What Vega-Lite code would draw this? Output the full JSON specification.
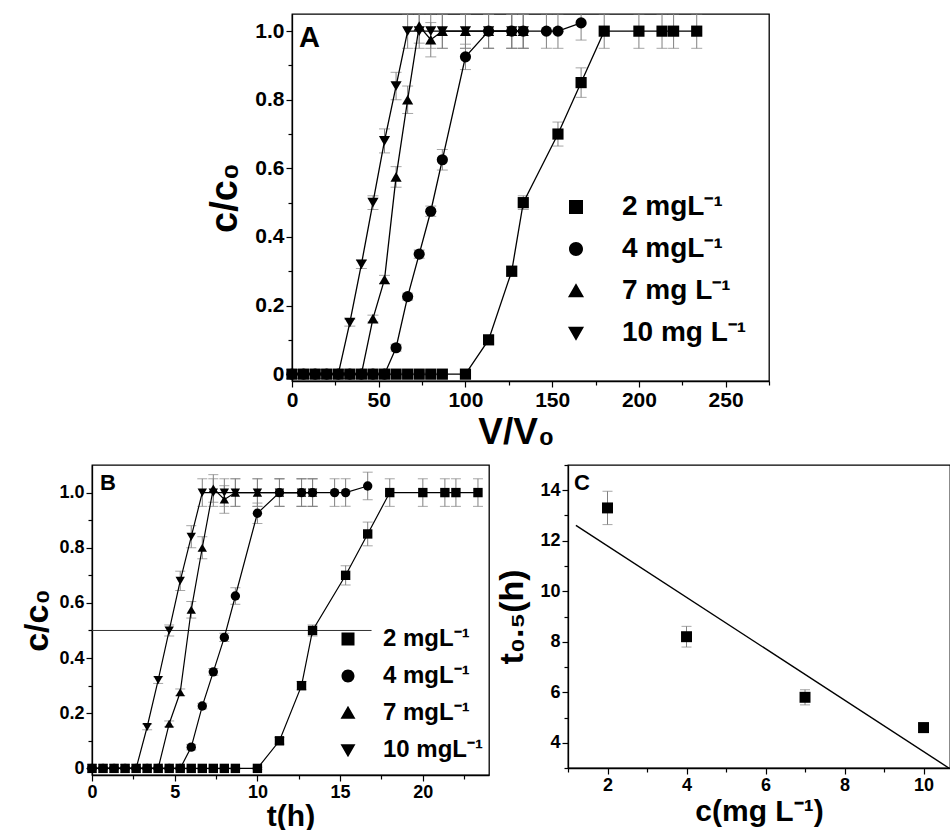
{
  "$schema": "https://vega.github.io/schema/vega-lite/v6.json",
  "padding": {"left": 20, "top": 13, "right": 0, "bottom": 0},
  "background": "white",
  "config": {
    "font": "Liberation Sans",
    "view": {"stroke": "black", "strokeWidth": 1.3},
    "axis": {
      "labelFont": "Liberation Sans", "titleFont": "Liberation Sans",
      "labelFontWeight": "bold", "titleFontWeight": "bold",
      "labelColor": "black", "titleColor": "black",
      "tickColor": "black", "domainColor": "black",
      "tickWidth": 1.2, "domainWidth": 1.3, "grid": false,
      "labelPadding": 2, "labelOverlap": false, "labelFlush": false, "labelBound": false,
      "titlePadding": 4
    },
    "legend": {
      "labelFont": "Liberation Sans", "labelFontWeight": "bold", "labelColor": "black",
      "padding": 0, "symbolStrokeColor": "black", "symbolFillColor": "black", "symbolStrokeWidth": 1.5
    },
    "title": {"font": "Liberation Sans", "fontWeight": "bold", "color": "black"}
  },
  "datasets": {
    "bt": [
      {"s": "2", "v": 0, "t": 0, "c": 0, "e": 0.004},
      {"s": "2", "v": 6.67, "t": 0.667, "c": 0, "e": 0.004},
      {"s": "2", "v": 13.33, "t": 1.333, "c": 0, "e": 0.004},
      {"s": "2", "v": 20, "t": 2, "c": 0, "e": 0.004},
      {"s": "2", "v": 26.67, "t": 2.667, "c": 0, "e": 0.004},
      {"s": "2", "v": 33.33, "t": 3.333, "c": 0, "e": 0.004},
      {"s": "2", "v": 40, "t": 4, "c": 0, "e": 0.004},
      {"s": "2", "v": 46.67, "t": 4.667, "c": 0, "e": 0.004},
      {"s": "2", "v": 53.33, "t": 5.333, "c": 0, "e": 0.004},
      {"s": "2", "v": 60, "t": 6, "c": 0, "e": 0.004},
      {"s": "2", "v": 66.67, "t": 6.667, "c": 0, "e": 0.004},
      {"s": "2", "v": 73.33, "t": 7.333, "c": 0, "e": 0.004},
      {"s": "2", "v": 80, "t": 8, "c": 0, "e": 0.004},
      {"s": "2", "v": 86.67, "t": 8.667, "c": 0, "e": 0.004},
      {"s": "2", "v": 100, "t": 10, "c": 0, "e": 0.004},
      {"s": "2", "v": 113.33, "t": 11.333, "c": 0.1, "e": 0.012},
      {"s": "2", "v": 126.67, "t": 12.667, "c": 0.3, "e": 0.015},
      {"s": "2", "v": 133.33, "t": 13.333, "c": 0.5, "e": 0.02},
      {"s": "2", "v": 153.33, "t": 15.333, "c": 0.7, "e": 0.035},
      {"s": "2", "v": 166.67, "t": 16.667, "c": 0.85, "e": 0.043},
      {"s": "2", "v": 180, "t": 18, "c": 1.0, "e": 0.05},
      {"s": "2", "v": 200, "t": 20, "c": 1.0, "e": 0.05},
      {"s": "2", "v": 213.33, "t": 21.333, "c": 1.0, "e": 0.05},
      {"s": "2", "v": 220, "t": 22, "c": 1.0, "e": 0.05},
      {"s": "2", "v": 233.33, "t": 23.333, "c": 1.0, "e": 0.05},
      {"s": "4", "v": 0, "t": 0, "c": 0, "e": 0.004},
      {"s": "4", "v": 6.67, "t": 0.667, "c": 0, "e": 0.004},
      {"s": "4", "v": 13.33, "t": 1.333, "c": 0, "e": 0.004},
      {"s": "4", "v": 20, "t": 2, "c": 0, "e": 0.004},
      {"s": "4", "v": 26.67, "t": 2.667, "c": 0, "e": 0.004},
      {"s": "4", "v": 33.33, "t": 3.333, "c": 0, "e": 0.004},
      {"s": "4", "v": 40, "t": 4, "c": 0, "e": 0.004},
      {"s": "4", "v": 46.67, "t": 4.667, "c": 0, "e": 0.004},
      {"s": "4", "v": 53.33, "t": 5.333, "c": 0, "e": 0.004},
      {"s": "4", "v": 60, "t": 6, "c": 0.077, "e": 0.01},
      {"s": "4", "v": 66.67, "t": 6.667, "c": 0.226, "e": 0.01},
      {"s": "4", "v": 73.33, "t": 7.333, "c": 0.35, "e": 0.012},
      {"s": "4", "v": 80, "t": 8, "c": 0.475, "e": 0.015},
      {"s": "4", "v": 86.67, "t": 8.667, "c": 0.625, "e": 0.03},
      {"s": "4", "v": 100, "t": 10, "c": 0.925, "e": 0.037},
      {"s": "4", "v": 113.33, "t": 11.333, "c": 1.0, "e": 0.05},
      {"s": "4", "v": 126.67, "t": 12.667, "c": 1.0, "e": 0.05},
      {"s": "4", "v": 133.33, "t": 13.333, "c": 1.0, "e": 0.05},
      {"s": "4", "v": 146.67, "t": 14.667, "c": 1.0, "e": 0.05},
      {"s": "4", "v": 153.33, "t": 15.333, "c": 1.0, "e": 0.05},
      {"s": "4", "v": 166.67, "t": 16.667, "c": 1.024, "e": 0.05},
      {"s": "7", "v": 0, "t": 0, "c": 0, "e": 0.004},
      {"s": "7", "v": 6.67, "t": 0.667, "c": 0, "e": 0.004},
      {"s": "7", "v": 13.33, "t": 1.333, "c": 0, "e": 0.004},
      {"s": "7", "v": 20, "t": 2, "c": 0, "e": 0.004},
      {"s": "7", "v": 26.67, "t": 2.667, "c": 0, "e": 0.004},
      {"s": "7", "v": 33.33, "t": 3.333, "c": 0, "e": 0.004},
      {"s": "7", "v": 40, "t": 4, "c": 0, "e": 0.004},
      {"s": "7", "v": 46.67, "t": 4.667, "c": 0.162, "e": 0.01},
      {"s": "7", "v": 53.33, "t": 5.333, "c": 0.276, "e": 0.012},
      {"s": "7", "v": 60, "t": 6, "c": 0.575, "e": 0.03},
      {"s": "7", "v": 66.67, "t": 6.667, "c": 0.8, "e": 0.04},
      {"s": "7", "v": 73.33, "t": 7.333, "c": 1.015, "e": 0.05},
      {"s": "7", "v": 80, "t": 8, "c": 0.975, "e": 0.05},
      {"s": "7", "v": 86.67, "t": 8.667, "c": 1.0, "e": 0.05},
      {"s": "7", "v": 100, "t": 10, "c": 1.0, "e": 0.05},
      {"s": "7", "v": 113.33, "t": 11.333, "c": 1.0, "e": 0.05},
      {"s": "7", "v": 126.67, "t": 12.667, "c": 1.0, "e": 0.05},
      {"s": "7", "v": 133.33, "t": 13.333, "c": 1.0, "e": 0.05},
      {"s": "10", "v": 0, "t": 0, "c": 0, "e": 0.004},
      {"s": "10", "v": 6.67, "t": 0.667, "c": 0, "e": 0.004},
      {"s": "10", "v": 13.33, "t": 1.333, "c": 0, "e": 0.004},
      {"s": "10", "v": 20, "t": 2, "c": 0, "e": 0.004},
      {"s": "10", "v": 26.67, "t": 2.667, "c": 0, "e": 0.004},
      {"s": "10", "v": 33.33, "t": 3.333, "c": 0.15, "e": 0.01},
      {"s": "10", "v": 40, "t": 4, "c": 0.32, "e": 0.012},
      {"s": "10", "v": 46.67, "t": 4.667, "c": 0.5, "e": 0.02},
      {"s": "10", "v": 53.33, "t": 5.333, "c": 0.68, "e": 0.035},
      {"s": "10", "v": 60, "t": 6, "c": 0.84, "e": 0.04},
      {"s": "10", "v": 66.67, "t": 6.667, "c": 1.0, "e": 0.05},
      {"s": "10", "v": 73.33, "t": 7.333, "c": 1.0, "e": 0.05},
      {"s": "10", "v": 80, "t": 8, "c": 1.0, "e": 0.05},
      {"s": "10", "v": 86.67, "t": 8.667, "c": 1.0, "e": 0.05},
      {"s": "10", "v": 100, "t": 10, "c": 1.0, "e": 0.05},
      {"s": "10", "v": 113.33, "t": 11.333, "c": 1.0, "e": 0.05},
      {"s": "10", "v": 126.67, "t": 12.667, "c": 1.0, "e": 0.05},
      {"s": "10", "v": 133.33, "t": 13.333, "c": 1.0, "e": 0.05}
    ],
    "half": [{"t": 0, "t2": 16.9, "c": 0.5}],
    "c5": [
      {"cm": 2, "th": 13.3, "e": 0.66},
      {"cm": 4, "th": 8.2, "e": 0.41},
      {"cm": 7, "th": 5.8, "e": 0.3},
      {"cm": 10, "th": 4.6, "e": 0.2}
    ],
    "fit": [
      {"cm": 1.2, "th": 12.61},
      {"cm": 10.64, "th": 3.0}
    ]
  },
  "spacing": 4,
  "center": false,
  "vconcat": [
    {
      "spacing": 5,
      "bounds": "flush",
      "hconcat": [
        {"width": 195, "height": 367, "data": {"values": []}, "mark": "point", "view": {"stroke": null, "fill": "white"}},
        {
          "width": 477, "height": 367,
          "title": {"text": "A", "orient": "top", "anchor": "start", "frame": "group", "baseline": "top", "offset": -39, "dx": 7, "fontSize": 29},
          "data": {"name": "bt"},
          "encoding": {
            "x": {"field": "v", "type": "quantitative",
              "scale": {"domain": [0, 275], "nice": false, "zero": false},
              "axis": {"title": "V/V₀", "titleFontSize": 37, "labelFontSize": 21, "titleX": 224,
                "values": [0, 25, 50, 75, 100, 125, 150, 175, 200, 225, 250, 275],
                "labelExpr": "datum.value % 50 == 0 ? '' + datum.value : ''",
                "tickSize": {"condition": {"test": "datum.value % 50 != 0", "value": 4}, "value": 6}}},
            "y": {"field": "c", "type": "quantitative",
              "scale": {"domain": [-0.02, 1.05], "nice": false, "zero": false},
              "axis": {"title": "c/c₀", "titleFontSize": 38, "titlePadding": 10, "labelFontSize": 21,
                "values": [0, 0.1, 0.2, 0.3, 0.4, 0.5, 0.6, 0.7, 0.8, 0.9, 1.0],
                "labelExpr": "round(datum.value * 10) % 2 == 1 ? '' : (datum.value == 0 ? '0' : format(datum.value, '.1f'))",
                "tickSize": {"condition": {"test": "round(datum.value * 10) % 2 == 1", "value": 4}, "value": 6}}}
          },
          "layer": [
            {"mark": {"type": "errorbar", "color": "#808080", "ticks": {"size": 11}, "thickness": 1, "clip": true}, "encoding": {"yError": {"field": "e"}}},
            {"mark": {"type": "line", "color": "black", "strokeWidth": 1.3}, "encoding": {"detail": {"field": "s"}}},
            {"mark": {"type": "point", "filled": true, "color": "black", "opacity": 1, "size": 125},
             "encoding": {"shape": {"field": "s", "type": "nominal",
               "scale": {"domain": ["2", "4", "7", "10"], "range": ["square", "circle", "triangle-up", "triangle-down"]}, "legend": null}}},
            {"transform": [{"filter": "datum.v < -1"}],
             "mark": {"type": "point", "filled": false, "color": "black", "fill": "black", "stroke": "black", "fillOpacity": 1, "strokeWidth": 1.5, "opacity": 1, "size": 196},
             "encoding": {"shape": {"field": "s", "type": "nominal",
               "scale": {"domain": ["2", "4", "7", "10"], "range": [
                 "M -5.3 0 L 5.3 0 M -1 -1 L 1 -1 L 1 1 L -1 1 Z",
                 "M -5.3 0 L 5.3 0 M 1 0 A 1 1 0 1 1 -1 0 A 1 1 0 1 1 1 0 Z",
                 "M -5.3 0 L 5.3 0 M 0 -1.1 L 1.15 0.9 L -1.15 0.9 Z",
                 "M -5.3 0 L 5.3 0 M 0 1.1 L 1.15 -0.9 L -1.15 -0.9 Z"]},
               "legend": {"title": null, "orient": "none", "legendX": 270, "legendY": 179,
                 "labelFontSize": 28, "symbolSize": 196, "labelOffset": 32, "rowPadding": 14,
                 "symbolFillColor": "black", "symbolStrokeColor": "black", "symbolStrokeWidth": 1.5,
                 "labelExpr": "(datum.label == '7' || datum.label == '10') ? datum.label + ' mg L⁻¹' : datum.label + ' mgL⁻¹'"}}}}
          ],
          "resolve": {"scale": {"shape": "independent"}}
        }
      ]
    },
    {
      "spacing": 79,
      "bounds": "flush",
      "hconcat": [
        {
          "width": 397, "height": 310,
          "title": {"text": "B", "orient": "top", "anchor": "start", "frame": "group", "baseline": "top", "offset": -30, "dx": 8, "fontSize": 22},
          "data": {"name": "bt"},
          "encoding": {
            "x": {"field": "t", "type": "quantitative",
              "scale": {"domain": [0, 24], "nice": false, "zero": false},
              "axis": {"title": "t(h)", "titleFontSize": 30, "titlePadding": 0, "labelFontSize": 18,
                "values": [0, 2.5, 5, 7.5, 10, 12.5, 15, 17.5, 20, 22.5],
                "labelExpr": "datum.value % 5 == 0 ? '' + datum.value : ''",
                "tickSize": {"condition": {"test": "datum.value % 5 != 0", "value": 4}, "value": 6}}},
            "y": {"field": "c", "type": "quantitative",
              "scale": {"domain": [-0.024, 1.1], "nice": false, "zero": false},
              "axis": {"title": "c/c₀", "titleFontSize": 34, "labelFontSize": 18,
                "values": [0, 0.1, 0.2, 0.3, 0.4, 0.5, 0.6, 0.7, 0.8, 0.9, 1.0],
                "labelExpr": "round(datum.value * 10) % 2 == 1 ? '' : (datum.value == 0 ? '0' : format(datum.value, '.1f'))",
                "tickSize": {"condition": {"test": "round(datum.value * 10) % 2 == 1", "value": 4}, "value": 6}}}
          },
          "layer": [
            {"data": {"name": "half"}, "mark": {"type": "rule", "color": "#333333", "strokeWidth": 1}, "encoding": {"x2": {"field": "t2"}}},
            {"mark": {"type": "errorbar", "color": "#808080", "ticks": {"size": 10}, "thickness": 1}, "encoding": {"yError": {"field": "e"}}},
            {"mark": {"type": "line", "color": "black", "strokeWidth": 1.2}, "encoding": {"detail": {"field": "s"}}},
            {"mark": {"type": "point", "filled": true, "color": "black", "opacity": 1, "size": 88},
             "encoding": {"shape": {"field": "s", "type": "nominal",
               "scale": {"domain": ["2", "4", "7", "10"], "range": ["square", "circle", "triangle-up", "triangle-down"]}, "legend": null}}},
            {"transform": [{"filter": "datum.v < -1"}],
             "mark": {"type": "point", "filled": false, "color": "black", "fill": "black", "stroke": "black", "fillOpacity": 1, "strokeWidth": 1.5, "opacity": 1, "size": 169},
             "encoding": {"shape": {"field": "s", "type": "nominal",
               "scale": {"domain": ["2", "4", "7", "10"], "range": [
                 "M -4.7 0 L 4.7 0 M -1 -1 L 1 -1 L 1 1 L -1 1 Z",
                 "M -4.7 0 L 4.7 0 M 1 0 A 1 1 0 1 1 -1 0 A 1 1 0 1 1 1 0 Z",
                 "M -4.7 0 L 4.7 0 M 0 -1.1 L 1.15 0.9 L -1.15 0.9 Z",
                 "M -4.7 0 L 4.7 0 M 0 1.1 L 1.15 -0.9 L -1.15 -0.9 Z"]},
               "legend": {"title": null, "orient": "none", "legendX": 244, "legendY": 162,
                 "labelFontSize": 24, "symbolSize": 169, "labelOffset": 23, "rowPadding": 13,
                 "symbolFillColor": "black", "symbolStrokeColor": "black", "symbolStrokeWidth": 1.5,
                 "labelExpr": "datum.label + ' mgL⁻¹'"}}}}
          ],
          "resolve": {"scale": {"shape": "independent"}}
        },
        {
          "width": 382, "height": 303,
          "title": {"text": "C", "orient": "top", "anchor": "start", "frame": "group", "baseline": "top", "offset": -39, "dx": 6, "fontSize": 22},
          "encoding": {
            "x": {"field": "cm", "type": "quantitative",
              "scale": {"domain": [1, 10.67], "nice": false, "zero": false},
              "axis": {"title": "c(mg L⁻¹)", "titleFontSize": 30, "titlePadding": 2, "labelFontSize": 18,
                "values": [1, 2, 3, 4, 5, 6, 7, 8, 9, 10],
                "labelExpr": "datum.value % 2 == 0 ? '' + datum.value : ''",
                "tickSize": {"condition": {"test": "datum.value % 2 != 0", "value": 4}, "value": 6}}},
            "y": {"field": "th", "type": "quantitative",
              "scale": {"domain": [3, 15], "nice": false, "zero": false},
              "axis": {"title": "t₀.₅(h)", "titleFontSize": 34, "titlePadding": 10, "labelFontSize": 18,
                "values": [3, 4, 5, 6, 7, 8, 9, 10, 11, 12, 13, 14, 15],
                "labelExpr": "datum.value % 2 == 0 ? '' + datum.value : ''",
                "tickSize": {"condition": {"test": "datum.value % 2 != 0", "value": 4}, "value": 6}}}
          },
          "layer": [
            {"data": {"name": "fit"}, "mark": {"type": "line", "color": "black", "strokeWidth": 1.4, "clip": true}, "encoding": {}},
            {"data": {"name": "c5"}, "mark": {"type": "errorbar", "color": "#808080", "ticks": {"size": 10}, "thickness": 1}, "encoding": {"yError": {"field": "e"}}},
            {"data": {"name": "c5"}, "mark": {"type": "point", "shape": "square", "filled": true, "color": "black", "opacity": 1, "size": 120}, "encoding": {}}
          ]
        }
      ]
    }
  ]
}
